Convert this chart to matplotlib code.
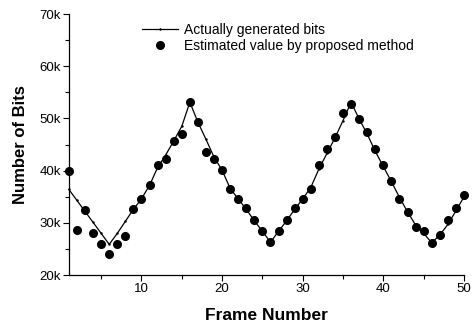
import matplotlib
matplotlib.use("Agg")
import matplotlib.pyplot as plt
from matplotlib.ticker import MultipleLocator, FuncFormatter

plt.rcParams['font.family'] = ['Liberation Sans', 'DejaVu Sans']

frames = list(range(1, 51))

# Actually generated bits per frame (in kbits)
actual_kbits = [36.4, 34.3, 32.2, 30.1, 28.0, 25.9, 28.0, 30.3, 32.6, 34.6,
                37.2, 40.6, 43.0, 45.7, 48.5, 53.1, 49.3, 46.0, 42.6, 40.1,
                36.6, 34.6, 32.6, 30.4, 28.4, 26.3, 28.4, 30.4, 32.6, 34.6,
                36.8, 40.3, 43.3, 46.3, 49.6, 53.1, 49.9, 47.0, 43.7, 40.8,
                37.9, 34.9, 32.1, 29.6, 28.0, 26.2, 27.7, 29.7, 32.3, 35.0]

# Estimated bits by the proposed method (in kbits)
estimated_kbits = [39.9, 28.6, 32.4, 28.1, 26.0, 24.0, 26.0, 27.5, 32.7, 34.5,
                   37.2, 41.1, 42.3, 45.7, 47.1, 53.1, 49.3, 43.6, 42.3, 40.1,
                   36.4, 34.6, 32.8, 30.5, 28.4, 26.3, 28.4, 30.5, 32.8, 34.6,
                   36.4, 41.0, 44.1, 46.4, 51.1, 52.8, 49.9, 47.5, 44.1, 41.0,
                   38.1, 34.5, 32.1, 29.2, 28.4, 26.2, 27.7, 30.5, 32.9, 35.3]

actual = [v * 1000 for v in actual_kbits]
estimated = [v * 1000 for v in estimated_kbits]

fig = plt.figure(figsize=(4.72, 3.26), dpi=100)
ax = fig.add_axes([0.146, 0.156, 0.837, 0.801])

ax.plot(frames, actual, color='black', linewidth=0.9, marker='.', markersize=1.5,
        label='Actually generated bits', clip_on=False, zorder=2)
ax.plot(frames, estimated, linestyle='none', marker='o', markersize=5.5,
        color='black', label='Estimated value by proposed method', clip_on=False, zorder=3)

ax.set_xlim(1, 50)
ax.set_ylim(20000, 70000)
ax.xaxis.set_major_locator(MultipleLocator(10))
ax.xaxis.set_minor_locator(MultipleLocator(5))
ax.yaxis.set_major_locator(MultipleLocator(10000))
ax.yaxis.set_minor_locator(MultipleLocator(5000))
ax.yaxis.set_major_formatter(FuncFormatter(lambda v, p: f"{int(v / 1000)}k"))

for s in ('top', 'right'):
    ax.spines[s].set_visible(False)
for s in ('left', 'bottom'):
    ax.spines[s].set_linewidth(0.9)

ax.tick_params(which='major', direction='out', length=4, width=0.8, labelsize=9.5, pad=2)
ax.tick_params(which='minor', direction='out', length=3, width=0.8)

ax.set_xlabel('Frame Number', fontsize=12.5, fontweight='bold', labelpad=9)
ax.set_ylabel('Number of Bits', fontsize=12, fontweight='bold', labelpad=8)

ax.legend(loc='upper left', bbox_to_anchor=(0.185, 0.965), frameon=False,
          fontsize=10, handlelength=2.6, handletextpad=0.4, labelspacing=0.15,
          borderaxespad=0, borderpad=0)

fig.savefig('out.png', dpi=100)
